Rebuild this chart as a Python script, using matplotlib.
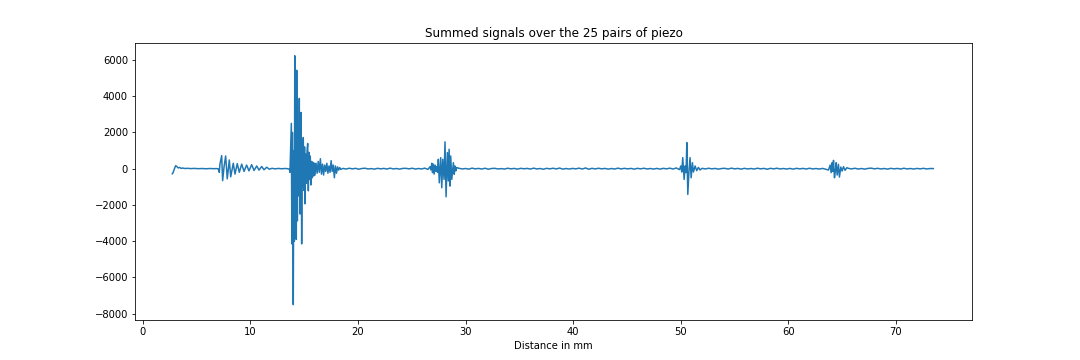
import numpy as np
import matplotlib
matplotlib.use("Agg")
import matplotlib.pyplot as plt

# --- data (distance in mm, summed amplitude) ---
start_x = [2.73, 2.80, 2.90, 3.04, 3.15, 3.28, 3.40, 3.55, 3.70, 3.90, 4.15, 4.45, 4.80, 5.15, 5.50, 5.85, 6.20, 6.55, 6.85, 7.00]
start_y = [-280, -220, -50, 166, 120, 40, 70, 20, 35, 10, 20, 5, 15, 0, 10, -5, 10, 0, 5, -10]

packet_b_x = [7.10, 7.16, 7.32, 7.41, 7.55, 7.69, 7.84, 8.03, 8.16, 8.40, 8.56, 8.77, 8.96, 9.18, 9.40, 9.64,
              9.86, 10.11, 10.33, 10.58, 10.79, 11.04, 11.26, 11.51, 11.75, 12.00, 12.30, 12.60, 12.90, 13.20, 13.45, 13.62]
packet_b_y = [-200, 250, 720, -660, 150, 700, -560, 480, -450, 300, -300, 280, -200, 250, -150, 200,
              -120, 220, -100, 150, -80, 120, -60, 80, -30, 20, -10, 15, -5, 10, 0, -30]

burst_c_x = [13.67, 13.75, 13.80, 13.85, 13.90, 13.95, 13.98, 14.03, 14.08, 14.12,
             14.18, 14.22, 14.26, 14.30, 14.36, 14.40, 14.46, 14.54, 14.60, 14.66,
             14.70, 14.76, 14.82, 14.86, 14.91, 14.97, 15.03, 15.07, 15.14, 15.20,
             15.26, 15.32, 15.38, 15.44, 15.50, 15.56, 15.62, 15.69, 15.75, 15.82,
             15.88, 15.95]
burst_c_y = [-200, 1500, 2500, -4150, 2000, -3000, -7500, 1000, -4000, 6230,
             -2000, 4500, -3900, 5430, -2880, 2000, -1500, 3880, -2500, 2500,
             3100, -4150, 1500, -1000, 1720, -1200, 1200, -1940, 800, -800,
             1000, 1390, -1220, 900, -600, 700, -900, 400, -500, 350,
             -400, 300]

tail_c_y = [-350, 300, -250, 400, -200, 550, -300, 250, -350, 200, -150, 300, -250,
            150, -200, 440, -150, 200, -500, 150, -250, 100, -80, 60, -40]

base1_y = [15, -20, 25, -10, 20, -30, 10, 25, -15, 5, -25, 20, -10, 15, -20, 30, -15, 10,
           -25, 15, 20, -10, 25, -20, 10, -15, 30, -40]

packet_d_x = [26.70, 26.78, 26.86, 26.93, 27.00, 27.08, 27.16, 27.24, 27.32, 27.40,
              27.47, 27.56, 27.69, 27.79, 27.88, 28.00, 28.09, 28.19, 28.31, 28.40,
              28.47, 28.56, 28.62, 28.72, 28.87, 28.95, 29.02, 29.10, 29.18]
packet_d_y = [110, -70, 300, -220, 250, -300, 200, -150, 120, -200,
              520, -780, 610, -1050, 520, -590, 1480, -1550, 890, -680,
              1070, -960, 700, -590, 330, -310, 150, -120, 60]

base2_y = [20, -15, 10, -25, 30, -10, 15, -20, 25, -30,
           10, 20, -15, 5, -20, 25, -10, 15, -25, 20,
           -5, 15, -20, 30, -15, 10, -30, 20, -10, 25,
           -15, 35, -25, 10, -20, 15, -10, 30, -20, 40,
           -30, 20, -15, 25, -10, 15, -25, 10, -20, 30,
           -15, 20, -10, 15, -25, 20, -10, 25, -15, 10,
           -20, 15, -25, 20, -10, 30, -20, 40, -50]

packet_e_x = [50.02, 50.11, 50.20, 50.33, 50.42, 50.51, 50.58, 50.67, 50.79, 50.88,
              50.98, 51.10, 51.19, 51.35, 51.50, 51.66, 51.81]
packet_e_y = [150, -185, 610, -590, 150, -220, 1440, -1420, -40, 610,
              -500, 330, -185, 150, -110, 70, -70]

base3_y = [20, -15, 25, -10, 15, -25, 10, 20, -20, 30,
           -10, 15, -25, 20, -15, 10, -20, 25, -10, 15,
           -30, 20, -10, 25, -15, 10, -20, 15, -25, 20,
           -10, 15, -20, 25, -15, 10, -20, 15, -30]

packet_f_x = [63.75, 63.91, 64.00, 64.09, 64.15, 64.22, 64.31, 64.40, 64.47, 64.56,
              64.68, 64.77, 64.90, 65.02, 65.15, 65.30, 65.46]
packet_f_y = [-75, 200, -220, 330, -150, 460, -500, -100, 330, -350,
              240, -460, 90, -130, 110, -90, 55]

base4_y = [20, -15, 25, -20, 10, -25, 15, 30, -10, 20,
           -15, 10, -25, 20, -10, 15, -20, 25, -15, 10,
           -20, 15, -10, 20, -15, 10, 5]

# sample positions of the evenly sampled stretches
tail_c_x = np.linspace(16.0, 18.4, len(tail_c_y))
base1_x = np.linspace(18.6, 26.5, len(base1_y))
base2_x = np.linspace(29.4, 49.9, len(base2_y))
base3_x = np.linspace(52.0, 63.5, len(base3_y))
base4_x = np.linspace(65.6, 73.5, len(base4_y))

distance = np.concatenate([start_x, packet_b_x, burst_c_x, tail_c_x, base1_x, packet_d_x,
                           base2_x, packet_e_x, base3_x, packet_f_x, base4_x])
signal = np.concatenate([start_y, packet_b_y, burst_c_y, tail_c_y, base1_y, packet_d_y,
                         base2_y, packet_e_y, base3_y, packet_f_y, base4_y])

fig, ax = plt.subplots(figsize=(15, 5), dpi=72)
ax.plot(distance, signal, color="#1f77b4", linewidth=1.5)
ax.set_title("Summed signals over the 25 pairs of piezo")
ax.set_xlabel("Distance in mm")
ax.set_xlim(-0.74, 77.1)
ax.set_ylim(-8370, 6923)
fig.savefig("out.png", dpi=72)
